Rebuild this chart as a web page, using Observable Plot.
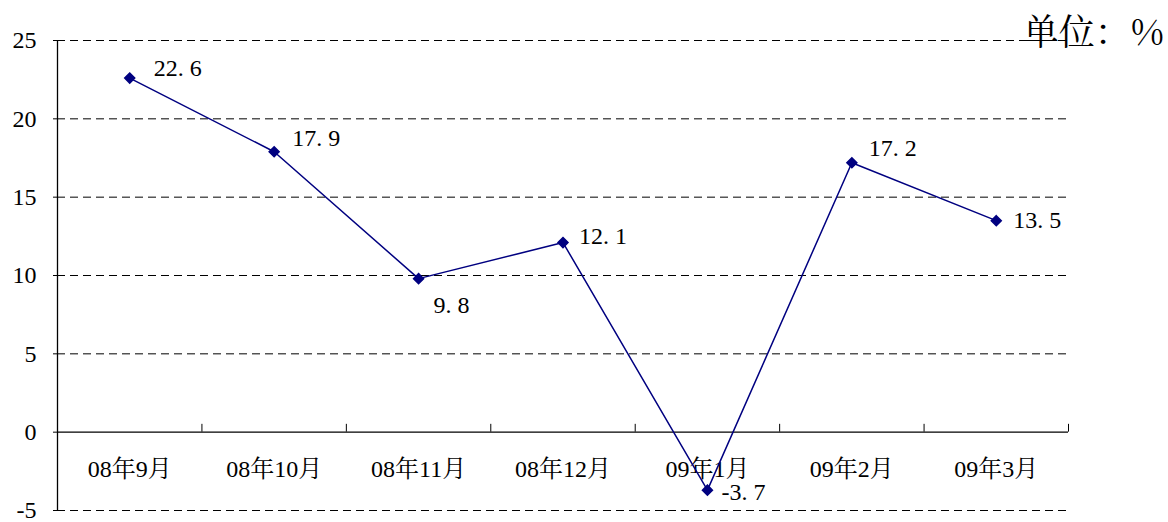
<!DOCTYPE html>
<html>
<head>
<meta charset="utf-8">
<script src="https://cdn.jsdelivr.net/npm/d3@7"></script>
<script src="https://cdn.jsdelivr.net/npm/@observablehq/plot@0.6"></script>
<style>
  html, body { margin: 0; padding: 0; background: #fff; }
  #chart { position: relative; width: 1168px; height: 522px; }
  #chart svg, #chart svg text { font-family: "Liberation Serif", "Noto Serif CJK SC", serif !important; }
  #unit { position: absolute; right: 4px; top: 10px; font-family: "Noto Serif CJK SC", serif; font-size: 36px; font-weight: 400; color: #000; line-height: 1.1; }
</style>
</head>
<body>
<div id="chart"><div id="unit">单位：%</div></div>
<script>
const categories = ["08年9月", "08年10月", "08年11月", "08年12月", "09年1月", "09年2月", "09年3月"];
const values = [22.6, 17.9, 9.8, 12.1, -3.7, 17.2, 13.5];
const yTicks = [-5, 0, 5, 10, 15, 20, 25];
const gridValues = [-5, 5, 10, 15, 20, 25];

const data = categories.map((c, i) => ({i, c, v: values[i]}));
const boundaries = d3.range(categories.length + 1).map(k => k - 0.5);

// label offsets (style only)
const labelDx = [24, 18, 15, 16, 14, 17, 17];
const labelDy = [-10, -13, 27, -6, 2, -14, 0];

const navy = "#000080";

const chart = Plot.plot({
  width: 1168,
  height: 522,
  marginLeft: 57,
  marginRight: 100,
  marginTop: 40,
  marginBottom: 12,
  style: {fontSize: "24px", background: "transparent", color: "#000"},
  x: {type: "linear", domain: [-0.5, categories.length - 0.5], axis: null},
  y: {domain: [-5, 25], axis: null},
  marks: [
    Plot.ruleY(gridValues, {stroke: "#000", strokeWidth: 1, strokeDasharray: "8,5"}),
    Plot.ruleY([0], {stroke: "#000", strokeWidth: 1.3}),
    Plot.ruleX([-0.5], {y1: -5, y2: 25, stroke: "#000", strokeWidth: 1.3}),
    Plot.ruleX(boundaries.slice(1), {y1: 0, y2: 0.5, stroke: "#000", strokeWidth: 1}),
    Plot.axisY({ticks: yTicks, tickSize: 4, tickPadding: 17, label: null, fontSize: 24, tickFormat: d => d < 0 ? "-" + Math.abs(d) : String(d)}),
    Plot.text(data, {x: "i", y: () => 0, text: "c", dy: 37, fontSize: 24, fill: "#000"}),
    Plot.line(data, {x: "i", y: "v", stroke: navy, strokeWidth: 1.5}),
    Plot.dot(data, {x: "i", y: "v", symbol: "diamond2", r: 4.5, fill: navy, stroke: navy}),
    ...data.map((d, k) => Plot.text([d], {
      x: "i", y: "v",
      text: e => e.v.toFixed(1).replace(".", ". "),
      textAnchor: "start", dx: labelDx[k], dy: labelDy[k], fontSize: 24, fill: "#000"
    }))
  ]
});
document.getElementById("chart").prepend(chart);
</script>
</body>
</html>
